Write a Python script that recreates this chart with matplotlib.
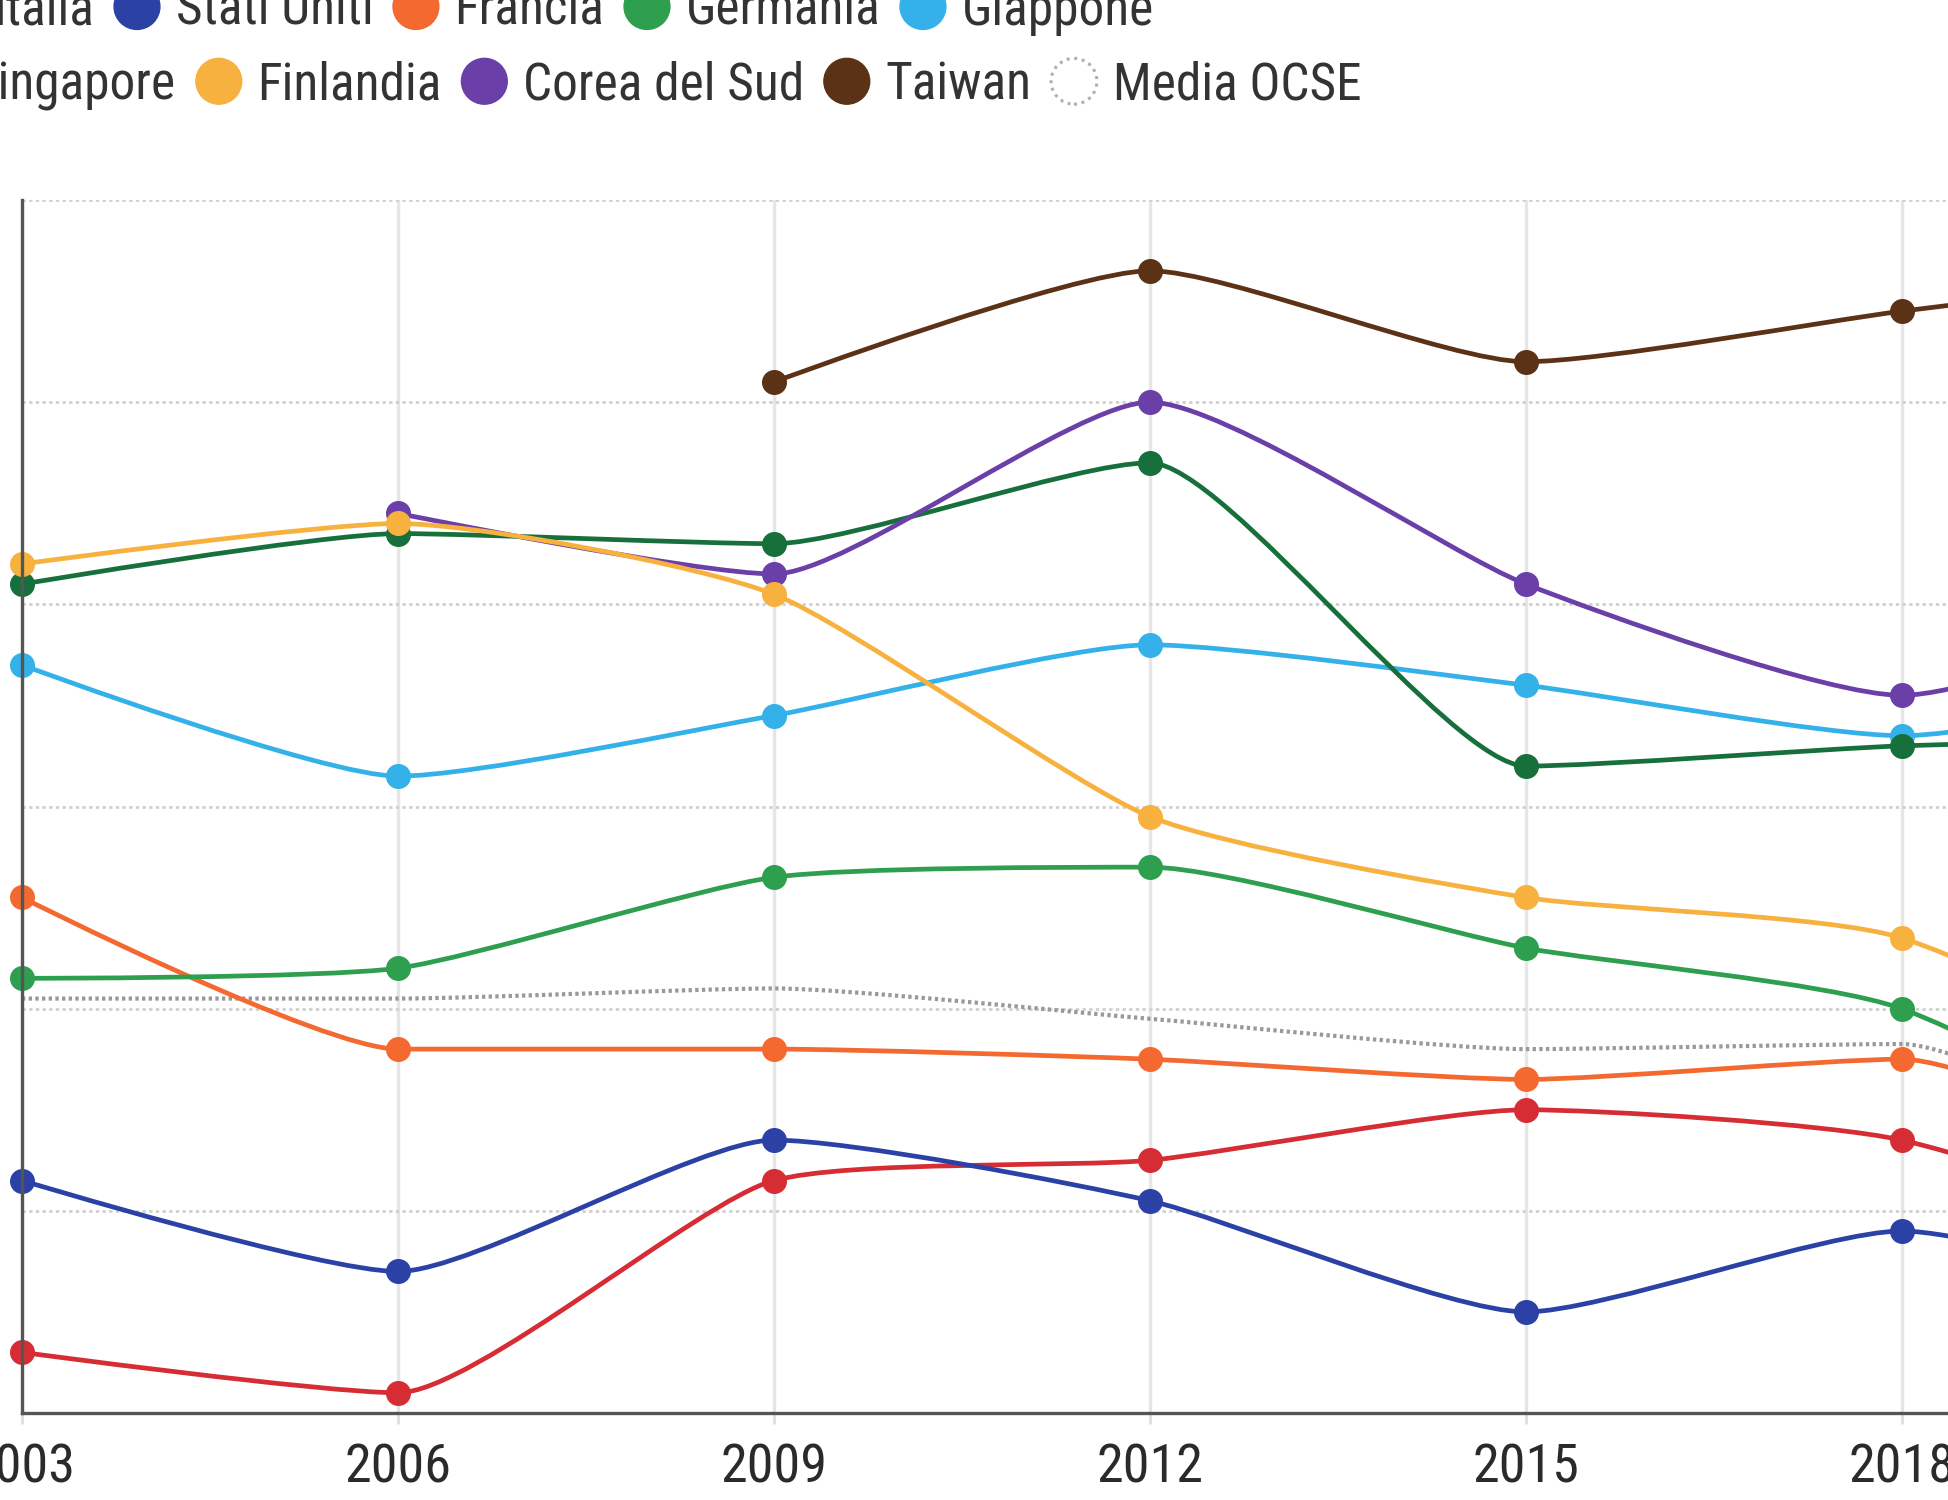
import matplotlib.pyplot as plt
import matplotlib.patches as mpatches
from matplotlib.path import Path
from matplotlib.legend_handler import HandlerPatch
from matplotlib import font_manager as fm

# anni PISA (il grafico e' tagliato poco dopo il 2018)
anni = [2003, 2006, 2009, 2012, 2015, 2018, 2022]

italia = [466, 462, 483, 485, 490, 487, 471]
stati_uniti = [483, 474, 487, 481, 470, 478, 465]
francia = [511, 496, 496, 495, 493, 495, 474]
germania = [503, 504, 513, 514, 506, 500, 475]
giappone = [534, 523, 529, 536, 532, 527, 536]
singapore = [542, 547, 546, 554, 524, 526, 527]
finlandia = [544, 548, 541, 519, 511, 507, 484]
corea = [None, 549, 543, 560, 542, 531, 547]
taiwan = [None, None, 562, 573, 564, 569, 575]
media_ocse = [501, 501, 502, 499, 496, 496.5, 472]

riga1 = ["Italia", "Stati Uniti", "Francia", "Germania", "Giappone"]
riga2 = ["Singapore", "Finlandia", "Corea del Sud", "Taiwan", "Media OCSE"]
colori1 = ["#d62d35", "#2b41a6", "#f3692f", "#2e9e4f", "#34b1e8"]
colori2 = ["#17703c", "#f7b13f", "#6b3fa8", "#5b3216", "#999999"]

# font stretto se disponibile
font_file = None
for pref in ['Liberation Sans Narrow', 'Roboto Condensed', 'Open Sans Condensed',
             'Noto Sans', 'DejaVu Sans', '']:
    for f in fm.fontManager.ttflist:
        if pref and not f.name.startswith(pref):
            continue
        if f.style != 'normal' or f.weight not in (400, 'normal', 'regular', 'book'):
            continue
        if f.stretch in ('condensed', 'semi-condensed') or 'Narrow' in f.name \
                or 'Condensed' in f.name:
            font_file = f.fname
            break
    if font_file:
        break
if font_file:
    fp_tick = fm.FontProperties(fname=font_file, size=39)
    fp_leg = fm.FontProperties(fname=font_file, size=37)
else:
    fp_tick = fm.FontProperties(family='DejaVu Sans', size=32)
    fp_leg = fm.FontProperties(family='DejaVu Sans', size=30)


def spline(xs, ys, f=0.2):
    # curva leggermente arrotondata sui punti
    n = len(xs)
    ctrl = []
    for i in range(n):
        x, y = xs[i], ys[i]
        if i == 0 or i == n - 1:
            ctrl.append(((x, y), (x, y)))
            continue
        px, py, nx, ny = xs[i-1], ys[i-1], xs[i+1], ys[i+1]
        lx, ly = x + (px - x)*f, y + (py - y)*f
        rx, ry = x + (nx - x)*f, y + (ny - y)*f
        corr = (ry - ly)*(rx - x)/(rx - lx) + y - ry
        ly += corr
        ry += corr
        if ly > py and ly > y:
            ly = max(py, y); ry = 2*y - ly
        elif ly < py and ly < y:
            ly = min(py, y); ry = 2*y - ly
        if ry > ny and ry > y:
            ry = max(ny, y); ly = 2*y - ry
        elif ry < ny and ry < y:
            ry = min(ny, y); ly = 2*y - ry
        ctrl.append(((lx, ly), (rx, ry)))
    verts = [(xs[0], ys[0])]
    codes = [Path.MOVETO]
    for i in range(1, n):
        verts += [ctrl[i-1][1], ctrl[i][0], (xs[i], ys[i])]
        codes += [Path.CURVE4]*3
    return Path(verts, codes)


fig = plt.figure(figsize=(19.49, 15), dpi=100)
ax = fig.add_axes([22/1949, 87/1500, 2381/1949, 1213/1500])
ax.set_xlim(2003, 2022)
ax.set_ylim(460, 580)

ax.set_xticks([2003, 2006, 2009, 2012, 2015, 2018, 2021])
ax.set_yticks([480, 500, 520, 540, 560, 580])
ax.set_yticklabels([])
ax.tick_params(axis='y', length=0)
ax.tick_params(axis='x', length=8, width=2, color='#dddddd', pad=13,
               labelcolor='#2a2a2a')
for lab in ax.get_xticklabels():
    lab.set_fontproperties(fp_tick)
ax.grid(axis='x', color='#e6e6e6', linewidth=2.4)
ax.grid(axis='y', color='#d0d0d0', linewidth=2, linestyle=(0, (1.2, 1.2)))
ax.set_axisbelow(True)
for s in ['top', 'right']:
    ax.spines[s].set_visible(False)
for s in ['left', 'bottom']:
    ax.spines[s].set_color('#555555')
    ax.spines[s].set_linewidth(2.4)

serie = [
    (media_ocse, colori2[4], 1),
    (italia, colori1[0], 2),
    (stati_uniti, colori1[1], 2),
    (francia, colori1[2], 2),
    (germania, colori1[3], 2),
    (giappone, colori1[4], 2),
    (singapore, colori2[0], 2),
    (corea, colori2[2], 2),
    (finlandia, colori2[1], 2),
    (taiwan, colori2[3], 2),
]
for valori, col, z in serie:
    xs = [a for a, v in zip(anni, valori) if v is not None]
    ys = [v for v in valori if v is not None]
    if z == 1:
        ax.add_patch(mpatches.PathPatch(spline(xs, ys), fill=False, edgecolor=col,
                                        linewidth=3, linestyle=(0, (0.8, 0.8)), zorder=z))
    else:
        ax.add_patch(mpatches.PathPatch(spline(xs, ys), fill=False, edgecolor=col,
                                        linewidth=3.4, capstyle='round', zorder=z))
        ax.plot(xs, ys, 'o', color=col, markersize=17, zorder=z, clip_on=False)


class HandlerCerchio(HandlerPatch):
    def create_artists(self, legend, orig, xdescent, ydescent, width, height, fontsize, trans):
        c = mpatches.Circle((width/2 - xdescent, height/2 - ydescent), 16.5)
        self.update_prop(c, orig, legend)
        c.set_transform(trans)
        return [c]


def legenda(etichette, colori, x, y):
    h = []
    for lab, col in zip(etichette, colori):
        if lab == "Media OCSE":
            h.append(mpatches.Circle((0, 0), 1, facecolor='white', edgecolor='#b0b0b0',
                                     linewidth=2.2, linestyle=(0, (1, 1.5))))
        else:
            h.append(mpatches.Circle((0, 0), 1, facecolor=col, edgecolor=col))
    leg = fig.legend(h, etichette, loc='center left', bbox_to_anchor=(x, y), ncol=5,
                     frameon=False, prop=fp_leg, handlelength=0.9, handletextpad=0.3,
                     columnspacing=0.38, borderpad=0, borderaxespad=0,
                     handler_map={mpatches.Circle: HandlerCerchio()})
    for t in leg.get_texts():
        t.set_color('#333333')
    return leg


legenda(riga1, colori1, -0.035, 0.993)
legenda(riga2, colori2, -0.046, 0.943)

fig.savefig("out.png", dpi=100)
